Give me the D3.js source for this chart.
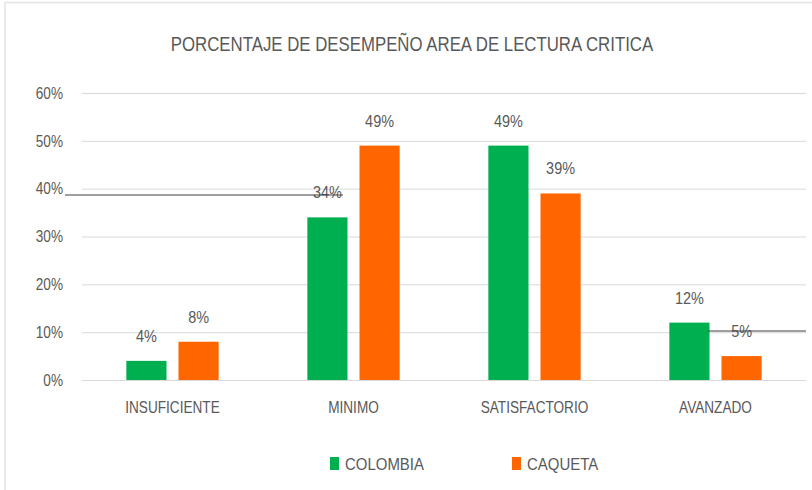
<!DOCTYPE html>
<html>
<head>
<meta charset="utf-8">
<script src="https://cdn.jsdelivr.net/npm/d3@7"></script>
<style>
  body { margin: 0; background: #fff; }
  text { font-family: "Liberation Sans Narrow", "Liberation Sans", "DejaVu Sans Condensed", sans-serif; fill: #595959; }
</style>
</head>
<body>
<div id="chart"></div>
<script>
// data
const categories = ["INSUFICIENTE", "MINIMO", "SATISFACTORIO", "AVANZADO"];
const series = ["COLOMBIA", "CAQUETA"];
const colombia = [4, 34, 49, 12];
const caqueta = [8, 49, 39, 5];
const yTicks = [0, 10, 20, 30, 40, 50, 60];
const colors = ["#00B050", "#FF6600"];

var width = 812, height = 490;
var plotLeft = 82, plotRight = 806, plotTop = 93, plotBottom = 380;

const svg = d3.select("#chart").append("svg")
    .attr("width", width)
    .attr("height", height);

// squeeze text horizontally (source font looks narrow)
function squeeze(sel, k) {
    sel.each(function() {
        var w = this.getComputedTextLength();
        d3.select(this).attr("textLength", w * k).attr("lengthAdjust", "spacingAndGlyphs");
    });
}

// chart border (only top and left visible)
svg.append("line").attr("x1", 5).attr("x2", width).attr("y1", 2.5).attr("y2", 2.5).attr("stroke", "#e3e3e3").attr("stroke-width", 1.5);
svg.append("line").attr("x1", 5).attr("x2", 5).attr("y1", 2).attr("y2", height).attr("stroke", "#e3e3e3").attr("stroke-width", 1.5);

var yScale = d3.scaleLinear().domain([0, 60]).range([plotBottom, plotTop]);
var x0 = d3.scaleBand().domain(categories).range([plotLeft, plotRight]).paddingInner(0.49).paddingOuter(0.245);
var x1 = d3.scaleBand().domain(series).range([0, x0.bandwidth()]).paddingInner(0.23);

// gridlines
svg.append("g").selectAll("line").data(yTicks).enter().append("line")
    .attr("x1", plotLeft).attr("x2", plotRight)
    .attr("y1", function(d) { return yScale(d) + 0.5; })
    .attr("y2", function(d) { return yScale(d) + 0.5; })
    .attr("stroke", "#d9d9d9")
    .attr("stroke-width", 1);

// y tick labels
var yl = svg.append("g").selectAll("text").data(yTicks).enter().append("text")
    .attr("x", 63)
    .attr("y", function(d) { return yScale(d); })
    .attr("dy", "0.36em")
    .attr("text-anchor", "end")
    .style("font-size", "16px")
    .text(function(d) { return d + "%"; });
squeeze(yl, 0.85);

// bars
var rows = categories.map(function(c, i) { return { cat: c, vals: [colombia[i], caqueta[i]] }; });
var groups = svg.append("g").selectAll("g").data(rows).enter().append("g")
    .attr("transform", function(d) { return "translate(" + x0(d.cat) + ",0)"; });

groups.selectAll("rect").data(function(d) { return d.vals.map(function(v, j) { return { s: series[j], v: v, j: j }; }); })
    .enter().append("rect")
    .attr("x", function(d) { return x1(d.s); })
    .attr("width", x1.bandwidth())
    .attr("y", function(d) { return yScale(d.v); })
    .attr("height", function(d) { return yScale(0) - yScale(d.v); })
    .attr("fill", function(d) { return colors[d.j]; });

var dl = groups.selectAll("text").data(function(d) { return d.vals.map(function(v, j) { return { s: series[j], v: v, j: j }; }); })
    .enter().append("text")
    .attr("x", function(d) { return x1(d.s) + x1.bandwidth() / 2; })
    .attr("y", function(d) { return yScale(d.v) - 19; })
    .attr("text-anchor", "middle")
    .style("font-size", "17px")
    .text(function(d) { return d.v + "%"; });
squeeze(dl, 0.85);

// category labels
var cl = svg.append("g").selectAll("text").data(categories).enter().append("text")
    .attr("x", function(d) { return x0(d) + x0.bandwidth() / 2; })
    .attr("y", 413)
    .attr("text-anchor", "middle")
    .style("font-size", "17px")
    .text(function(d) { return d; });
squeeze(cl, 0.8);

// stray annotation lines seen in the picture
svg.append("line").attr("x1", 65).attr("x2", 343).attr("y1", 195).attr("y2", 195).attr("stroke", "#404040").attr("stroke-width", 1);
svg.append("line").attr("x1", 708).attr("x2", 806).attr("y1", 331).attr("y2", 331).attr("stroke", "#404040").attr("stroke-width", 1);

// title
var tt = svg.append("text")
    .attr("x", 412)
    .attr("y", 51)
    .attr("text-anchor", "middle")
    .style("font-size", "20px")
    .text("PORCENTAJE DE DESEMPEÑO AREA DE LECTURA CRITICA");
squeeze(tt, 0.84);

// legend
var legendX = [330, 512];
var lg = svg.append("g").selectAll("g").data(series).enter().append("g")
    .attr("transform", function(d, i) { return "translate(" + legendX[i] + ",457)"; });
lg.append("rect").attr("width", 9).attr("height", 13).attr("fill", function(d, i) { return colors[i]; });
var lt = lg.append("text").attr("x", 15).attr("y", 13).style("font-size", "17px").text(function(d) { return d; });
squeeze(lt, 0.88);
</script>
</body>
</html>
